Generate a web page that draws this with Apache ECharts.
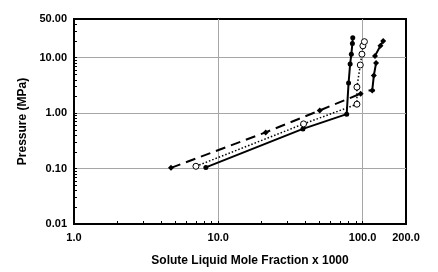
<!DOCTYPE html>
<html>
<head>
<meta charset="utf-8">
<script src="https://cdn.jsdelivr.net/npm/echarts@6/dist/echarts.min.js"></script>
<style>
html, body { margin: 0; padding: 0; background: #fff; }
#chart { width: 438px; height: 272px; }
</style>
</head>
<body>
<div id="chart"></div>
<script>
// solid line, filled markers
const solidX = [8.2, 38.6, 77.6, 80, 82, 83.6, 85, 85.5];
const solidY = [0.105, 0.52, 0.96, 3.5, 7.7, 11.6, 18, 23];
// dashed line
const dashX = [4.7, 21.3, 50.5, 97];
const dashY = [0.103, 0.45, 1.12, 2.25];
// dotted line, open circles
const dotX = [7.0, 39, 91.4, 91.4, 96.4, 99, 100.5, 103];
const dotY = [0.11, 0.64, 1.45, 2.95, 7.4, 11.6, 16.4, 19.5];
// short segments on the right
const lowX = [116.7, 119.7, 124];
const lowY = [2.57, 4.77, 8.0];
const footX = [110, 122];
const footY = [2.57, 2.57];
const upX = [122, 133, 139];
const upY = [10.8, 16.4, 20.1];

// tick, grid and label positions
const xTicks = [1, 2, 3, 4, 5, 6, 7, 8, 9, 10, 20, 30, 40, 50, 60, 70, 80, 90, 100];
const xGrid = [10, 100];
const xLabels = [1, 10, 100, 200];
const yTicks = [0.01, 0.02, 0.03, 0.04, 0.05, 0.06, 0.07, 0.08, 0.09,
  0.1, 0.2, 0.3, 0.4, 0.5, 0.6, 0.7, 0.8, 0.9, 1, 2, 3, 4, 5, 6, 7, 8, 9,
  10, 20, 30, 40, 50];
const yGrid = [0.1, 1, 10];
const yLabels = [0.01, 0.1, 1, 10, 50];

function pairs(xs, ys) {
  return xs.map((x, i) => [x, ys[i]]);
}

const font = 'Liberation Sans, Arial, sans-serif';
const gridLine = { show: true, lineStyle: { color: '#a6a6a6', width: 1 } };
const chart = echarts.init(document.getElementById('chart'));

const option = {
  animation: false,
  backgroundColor: '#fff',
  grid: {
    left: 74, right: 32, top: 19, bottom: 47,
    show: true, borderColor: '#000', borderWidth: 2
  },
  xAxis: [
    {
      type: 'log', logBase: 10, min: 1, max: 200, position: 'bottom',
      name: 'Solute Liquid Mole Fraction x 1000',
      nameLocation: 'middle', nameGap: 31,
      nameTextStyle: { fontFamily: font, fontWeight: 'bold', fontSize: 12, color: '#000', padding: [0, 0, 0, 20] },
      axisLine: { lineStyle: { color: '#000', width: 2 } },
      axisTick: { inside: true, length: 3, customValues: xTicks, lineStyle: { color: '#000' } },
      axisLabel: {
        margin: 8, fontFamily: font, fontWeight: 'bold', fontSize: 11, color: '#000',
        customValues: xLabels,
        formatter: v => Number(v).toFixed(1)
      },
      splitLine: { show: false }
    },
    {
      // decade grid lines only
      type: 'log', logBase: 10, min: 1, max: 200, position: 'bottom',
      axisLine: { show: false },
      axisLabel: { show: false },
      axisTick: { show: false, customValues: xGrid },
      splitLine: gridLine
    }
  ],
  yAxis: [
    {
      type: 'log', logBase: 10, min: 0.01, max: 50, position: 'left',
      name: 'Pressure (MPa)',
      nameLocation: 'middle', nameGap: 43,
      nameTextStyle: { fontFamily: font, fontWeight: 'bold', fontSize: 12, color: '#000' },
      axisLine: { lineStyle: { color: '#000', width: 2 } },
      axisTick: { inside: true, length: 3, customValues: yTicks, lineStyle: { color: '#000' } },
      axisLabel: {
        margin: 7, fontFamily: font, fontWeight: 'bold', fontSize: 11, color: '#000',
        customValues: yLabels,
        formatter: v => Number(v).toFixed(2)
      },
      splitLine: { show: false }
    },
    {
      type: 'log', logBase: 10, min: 0.01, max: 50, position: 'left',
      axisLine: { show: false },
      axisLabel: { show: false },
      axisTick: { show: false, customValues: yGrid },
      splitLine: gridLine
    }
  ],
  series: [
    {
      type: 'line', data: pairs(solidX, solidY),
      lineStyle: { color: '#000', width: 2 },
      symbol: 'circle', symbolSize: 5,
      itemStyle: { color: '#000' }
    },
    {
      type: 'line', data: pairs(dashX, dashY),
      lineStyle: { color: '#000', width: 2, type: [10, 6] },
      symbol: 'diamond', symbolSize: 6,
      itemStyle: { color: '#000' }
    },
    {
      type: 'line', data: pairs(dotX, dotY),
      lineStyle: { color: '#000', width: 1.5, type: [1.5, 2] },
      symbol: 'circle', symbolSize: 6,
      itemStyle: { color: '#fff', borderColor: '#000', borderWidth: 1 }
    },
    {
      type: 'line', data: pairs(lowX, lowY),
      lineStyle: { color: '#000', width: 2 },
      symbol: 'diamond', symbolSize: 6,
      itemStyle: { color: '#000' }
    },
    {
      type: 'line', data: pairs(footX, footY),
      lineStyle: { color: '#000', width: 2 },
      symbol: 'none'
    },
    {
      type: 'line', data: pairs(upX, upY),
      lineStyle: { color: '#000', width: 2 },
      symbol: 'diamond', symbolSize: 6,
      itemStyle: { color: '#000' }
    }
  ]
};

chart.setOption(option);
</script>
</body>
</html>
